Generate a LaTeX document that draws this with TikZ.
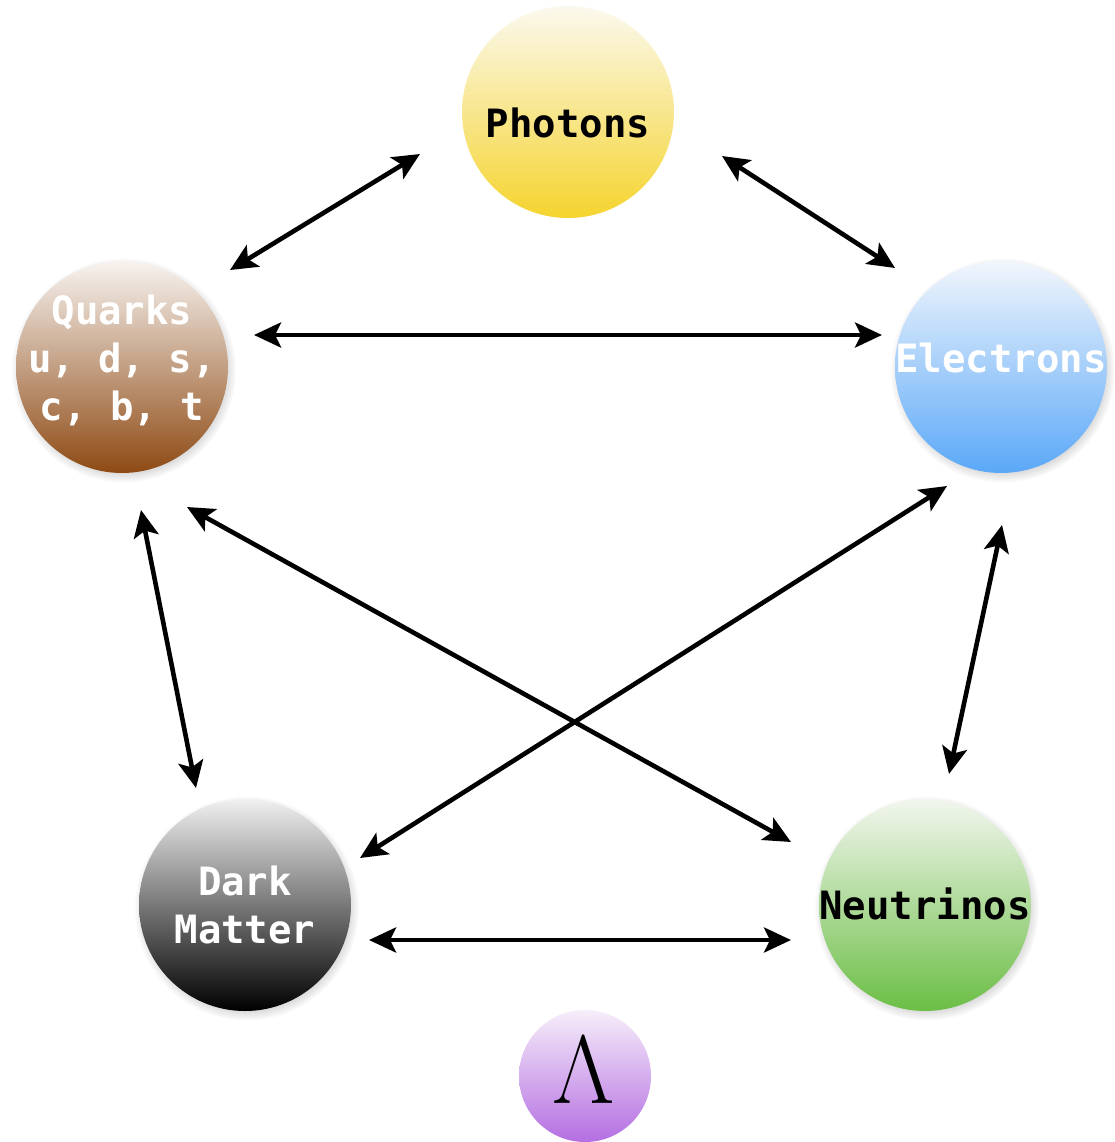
\documentclass[tikz,border=0pt]{standalone}
\usepackage{fontspec}
\setmonofont{DejaVu Sans Mono}
\usetikzlibrary{arrows.meta,calc,shadows,fadings}
\definecolor{phT}{HTML}{FBF9EE}\definecolor{phB}{HTML}{F5D42E}
\definecolor{quT}{HTML}{F7F3F0}\definecolor{quB}{HTML}{8E4A14}
\definecolor{elT}{HTML}{F2F6FC}\definecolor{elB}{HTML}{5AA8F8}
\definecolor{dmT}{HTML}{F0F0F0}\definecolor{dmB}{HTML}{000000}
\definecolor{neT}{HTML}{F2F6EE}\definecolor{neB}{HTML}{6BBE45}
\definecolor{laT}{HTML}{F6EEFA}\definecolor{laB}{HTML}{B46EE2}
\tikzset{
  ball/.style={circle, draw=none, minimum size=212pt, inner sep=0pt},
  shd/.style={circular drop shadow={shadow scale=1.06, shadow xshift=1.5pt, shadow yshift=-3pt, opacity=0.45}},
  lbl/.style={font=\fontsize{39}{48}\selectfont\ttfamily\bfseries, inner sep=0pt, anchor=base},
  tip/.style={Stealth[length=27pt,width=25pt,inset=6pt]},
  arr/.style={line width=4.6pt, {Stealth[length=27pt,width=25pt,inset=6pt]}-{Stealth[length=27pt,width=25pt,inset=6pt]}}
}
\begin{document}
\begin{tikzpicture}[x=1pt,y=-1pt]
\useasboundingbox (0,0) rectangle (1115,1142);
\fill[white] (0,0) rectangle (1115,1142);
% particles
\node[ball, top color=phT, bottom color=phB] (p) at (568,112) {};
\node[ball, shd, top color=quT, bottom color=quB] (q) at (122,367) {};
\node[ball, shd, top color=elT, bottom color=elB] (e) at (1001,367) {};
\node[ball, shd, top color=dmT, bottom color=dmB] (d) at (245,905) {};
\node[ball, shd, top color=neT, bottom color=neB] (n) at (925,905) {};
\node[circle, draw=none, minimum size=132pt, inner sep=0pt, top color=laT, bottom color=laB] (l) at (585,1076) {};
% labels
\node[lbl, text=black] (pt) at ($(p)+(0,26)$) {Photons};
\node[lbl, text=white] (qt1) at ($(q)+(0,-43)$) {Quarks};
\node[lbl, text=white] (qt2) at ($(q)+(0,5)$) {u, d, s,};
\node[lbl, text=white] (qt3) at ($(q)+(0,53)$) {c, b, t};
\node[lbl, text=white] (et) at ($(e)+(0,5)$) {Electrons};
\node[lbl, text=white] (dt1) at ($(d)+(0,-10)$) {Dark};
\node[lbl, text=white] (dt2) at ($(d)+(0,38)$) {Matter};
\node[lbl, text=black] (nt) at ($(n)+(0,14)$) {Neutrinos};
\node[scale=3.9, inner sep=0pt, text=black] (lt) at ($(l)+(-1,-6)$) {\Huge$\Lambda$};
% connectors
\draw[arr] ($(q)+(108,-97)$) -- ($(p)+(-148,42)$);
\draw[arr] ($(p)+(154,44)$) -- ($(e)+(-106,-99)$);
\draw[arr] ($(q)+(132,-32)$) -- ($(e)+(-119,-32)$);
\draw[arr] ($(q)+(19,143)$) -- ($(d)+(-49,-117)$);
\draw[arr] ($(q)+(65,140)$) -- ($(n)+(-134,-63)$);
\draw[arr] ($(e)+(-54,119)$) -- ($(d)+(115,-47)$);
\draw[arr] ($(e)+(1,158)$) -- ($(n)+(24,-131)$);
\draw[arr] ($(d)+(124,35)$) -- ($(n)+(-134,35)$);
\end{tikzpicture}
\end{document}
